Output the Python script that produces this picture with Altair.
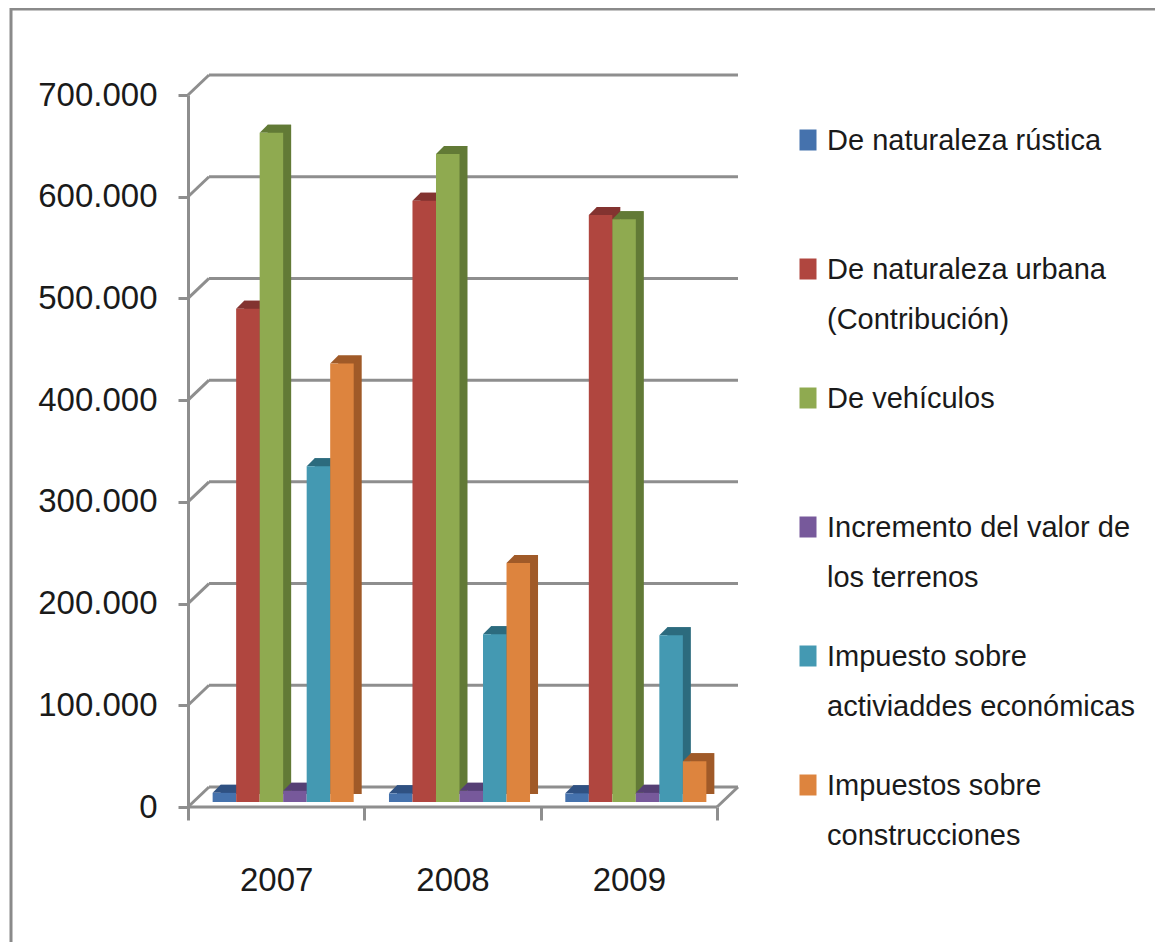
import altair as alt
import pandas as pd

# ---------------- data ----------------
years = ["2007", "2008", "2009"]
series = [
    "De naturaleza rústica",
    "De naturaleza urbana (Contribución)",
    "De vehículos",
    "Incremento del valor de los terrenos",
    "Impuesto sobre actividades económicas",
    "Impuestos sobre construcciones",
]
legend_labels = [
    "De naturaleza rústica",
    "De naturaleza urbana\n(Contribución)",
    "De vehículos",
    "Incremento del valor de\nlos terrenos",
    "Impuesto sobre\nactiviaddes económicas",
    "Impuestos sobre\nconstrucciones",
]
rustica = [9000, 8500, 8500]
urbana = [485000, 591000, 577000]
vehiculos = [658000, 637000, 573000]
incremento = [11000, 11000, 9000]
actividades = [330000, 165000, 164000]
construcciones = [431000, 235000, 40000]
y_ticks = [0, 100000, 200000, 300000, 400000, 500000, 600000, 700000]

front_colors = ["#4572AD", "#B0463F", "#8FAA50", "#77599B", "#4499B2", "#DD843E"]
side_colors = ["#2F5182", "#833330", "#627A36", "#553F74", "#2C6B7E", "#A05A28"]

values_by_series = [rustica, urbana, vehiculos, incremento, actividades, construcciones]
rows = []
for s, vals in zip(series, values_by_series):
    for y, v in zip(years, vals):
        rows.append({"year": y, "series": s, "value": v})
df = pd.DataFrame(rows)
grid_df = pd.DataFrame({"tick": y_ticks})
leg_df = pd.DataFrame({"series": series, "label": legend_labels})
frame_df = pd.DataFrame({"k": [0]})

# ---------------- style ----------------
W, H = 529, 712
DX, DY = 21, 20          # depth of back wall
BAR_SHIFT = 7            # columns sit a little inside the floor
BAR_UP = 5
TOP = 8                  # depth of each column
GRAY = "#8E8E8E"
TXT = "#1A1A1A"
AXFONT = "Liberation Sans, Arial, sans-serif"
REG = "Liberation Sans, Arial, sans-serif"

yscale = alt.Scale(domain=[0, 700000], nice=False, zero=True)


def xscale(shift):
    return alt.Scale(domain=years, range=[shift, W + shift], paddingInner=0.2, paddingOuter=0.1)


xoff = alt.XOffset("series:N", sort=series, scale=alt.Scale(domain=series))

yax = alt.Axis(
    values=y_ticks,
    labelExpr="replace(format(datum.value, ','), ',', '.')",
    grid=False,
    domain=True, domainColor=GRAY, domainWidth=3,
    ticks=True, tickColor=GRAY, tickWidth=3, tickSize=10,
    labelPadding=21, labelFont=AXFONT, labelFontSize=33, labelColor=TXT,
    title=None,
)
xax = alt.Axis(
    title=None, labelAngle=0, domain=False,
    tickBand="extent", tickSize=13, tickColor=GRAY, tickWidth=3,
    labelPadding=44, labelBaseline="top",
    labelFont=AXFONT, labelFontSize=33, labelColor=TXT,
)

Y = alt.Y("tick:Q", scale=yscale, axis=yax)

back_grid = alt.Chart(grid_df).mark_rule(color=GRAY, strokeWidth=3, yOffset=-DY).encode(
    x=alt.value(DX), x2=alt.value(W + DX), y=Y
)
connectors = alt.Chart(grid_df).mark_rule(color=GRAY, strokeWidth=3, y2Offset=-DY).encode(
    x=alt.value(0), x2=alt.value(DX), y=Y, y2="tick:Q"
)
floor_front = alt.Chart(grid_df).transform_filter("datum.tick == 0").mark_rule(
    color=GRAY, strokeWidth=3
).encode(x=alt.value(0), x2=alt.value(W), y=Y)
floor_right = alt.Chart(grid_df).transform_filter("datum.tick == 0").mark_rule(
    color=GRAY, strokeWidth=3, y2Offset=-DY
).encode(x=alt.value(W), x2=alt.value(W + DX), y=Y, y2="tick:Q")

VY = alt.Y("value:Q", scale=yscale, axis=yax)

# invisible layer that carries the category axis (ticks on category boundaries)
axis_layer = alt.Chart(df).mark_bar(opacity=0).encode(
    x=alt.X("year:N", sort=years,
            scale=alt.Scale(domain=years, range=[0, W], paddingInner=0, paddingOuter=0),
            axis=xax),
    y=VY,
)

shadow = alt.Chart(df).mark_bar(
    yOffset=-(BAR_UP + TOP), y2Offset=-(BAR_UP + TOP), strokeWidth=0
).encode(
    x=alt.X("year:N", sort=years, scale=xscale(BAR_SHIFT + TOP), axis=None),
    xOffset=xoff,
    y=VY,
    color=alt.Color("series:N", scale=alt.Scale(domain=series, range=side_colors), legend=None),
)

# top face (parallelogram) of each column, drawn as a custom symbol
half = 141.0 / 6 / 2 / 20.0
dep = TOP / 20.0
top_path = (
    f"M {-half:.4f} 0 L {half:.4f} 0 L {half + dep:.4f} {-dep:.4f} "
    f"L {-half + dep:.4f} {-dep:.4f} Z"
)
tops = alt.Chart(df).mark_point(
    shape=top_path, size=1600, filled=True, opacity=1, strokeWidth=0, yOffset=-BAR_UP
).encode(
    x=alt.X("year:N", sort=years, scale=xscale(BAR_SHIFT), axis=None),
    xOffset=xoff,
    y=VY,
    color=alt.Color("series:N", scale=alt.Scale(domain=series, range=side_colors), legend=None),
)

fronts = alt.Chart(df).mark_bar(yOffset=-BAR_UP, y2Offset=-BAR_UP, strokeWidth=0).encode(
    x=alt.X("year:N", sort=years, scale=xscale(BAR_SHIFT), axis=None),
    xOffset=xoff,
    y=VY,
    color=alt.Color("series:N", scale=alt.Scale(domain=series, range=front_colors), legend=None),
)

main = alt.layer(
    back_grid, connectors, floor_front, floor_right, axis_layer, shadow, tops, fronts
).resolve_scale(x="independent", xOffset="independent", color="independent")

LY = alt.Y("series:N", sort=series, scale=alt.Scale(domain=series, range=[55, 700], padding=0), axis=None)
sq_path = "M -0.81 -1 L 0.81 -1 L 0.81 1 L -0.81 1 Z"
squares = alt.Chart(leg_df).mark_point(
    shape=sq_path, size=441, filled=True, opacity=1, strokeWidth=0, yOffset=-10
).encode(
    x=alt.value(620),
    y=LY,
    color=alt.Color("series:N", scale=alt.Scale(domain=series, range=front_colors), legend=None),
)
texts = alt.Chart(leg_df).mark_text(
    align="left", baseline="alphabetic", font=REG, fontSize=29,
    lineBreak="\n", lineHeight=50, color=TXT,
).encode(x=alt.value(639), y=LY, text="label:N")

frame = alt.Chart(frame_df).mark_rect(fillOpacity=0, stroke="#8A8A8A", strokeWidth=3).encode(
    x=alt.value(-177), x2=alt.value(1200), y=alt.value(-86), y2=alt.value(1000)
)

legend = alt.layer(frame, squares, texts)

chart = (
    alt.layer(main, legend)
    .resolve_scale(y="independent", color="independent")
    .properties(
        width=W,
        height=H,
        padding={"left": 180, "top": 87, "right": 438, "bottom": 135},
        autosize=alt.AutoSizeParams(type="none"),
        background="white",
    )
    .configure_view(strokeWidth=0)
)

chart.save("out.html", embed_options={"renderer": "svg", "actions": False})
